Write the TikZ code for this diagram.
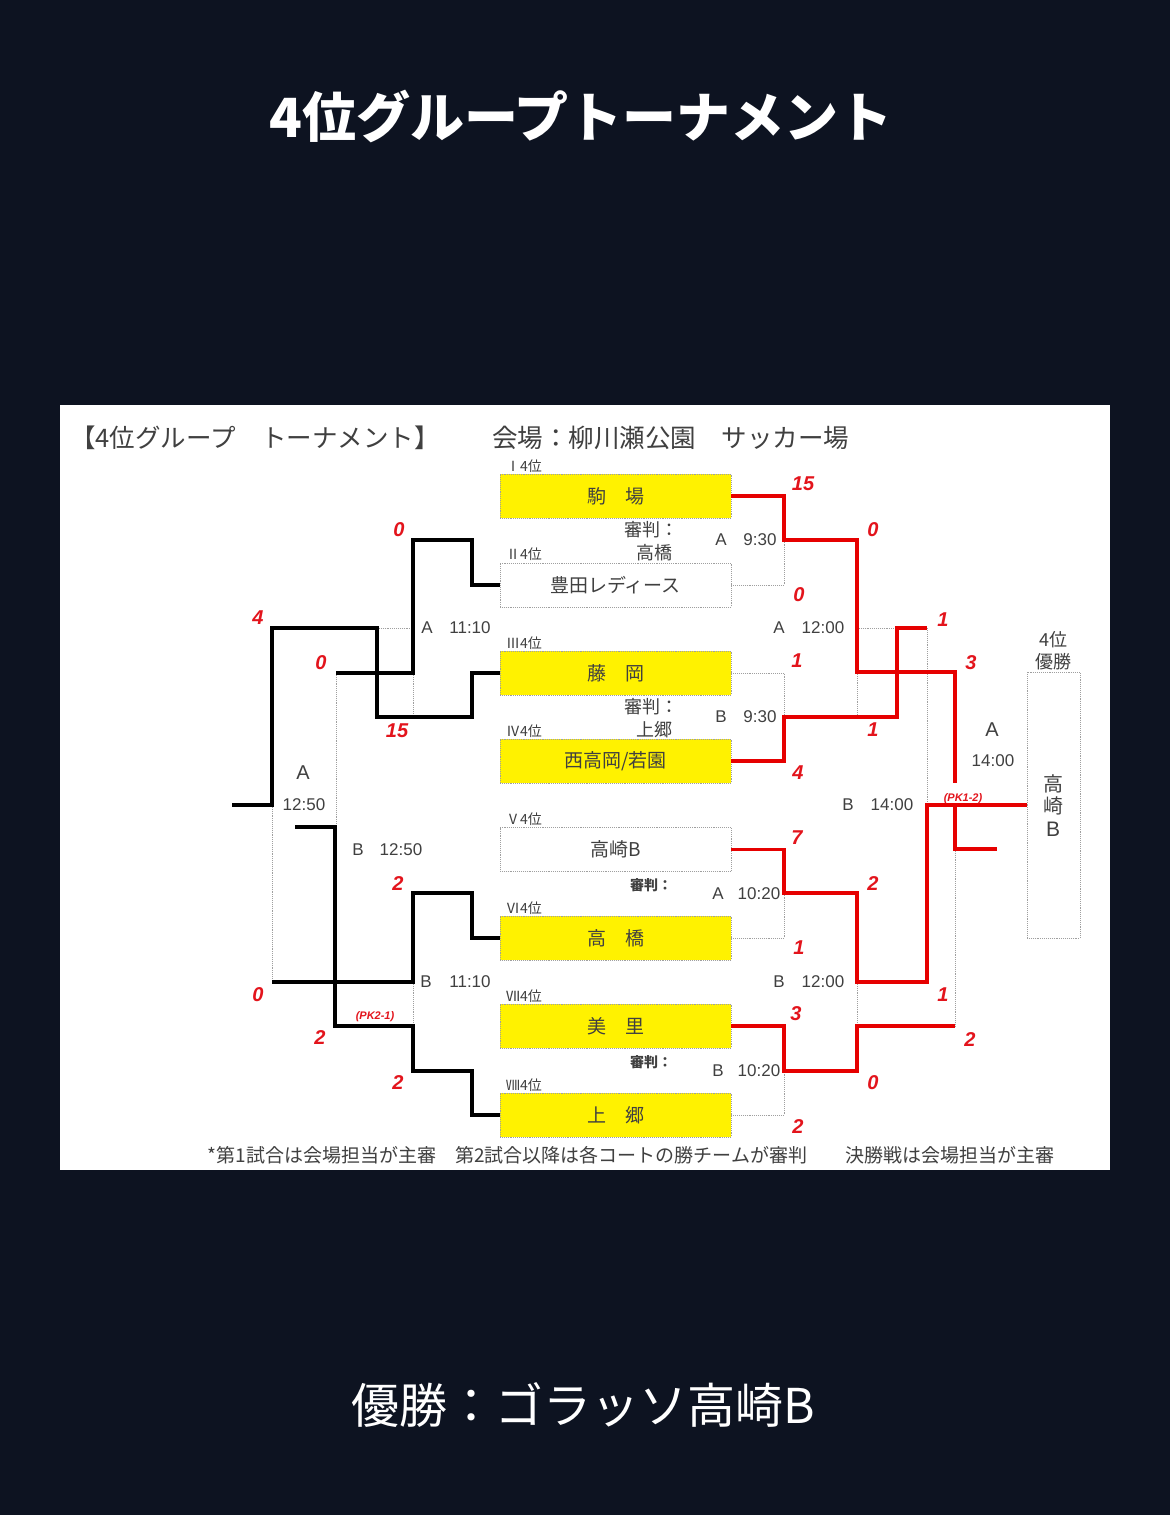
\documentclass[tikz,border=0pt]{standalone}
\usepackage{fontspec}
\setmainfont{Liberation Sans}
\newfontfamily\jp{Noto Sans CJK JP}
\definecolor{bg}{HTML}{0D1321}
\definecolor{txt}{HTML}{404040}
\definecolor{scr}{HTML}{E3141C}
\definecolor{redl}{HTML}{E60000}
\tikzset{
  team/.style={draw=gray!75, densely dotted, line width=0.9pt, minimum width=231pt, minimum height=44pt, inner sep=0pt, font=\jp\fontsize{19}{19}\selectfont, text=txt},
  yel/.style={team, fill=yellow},
  blk/.style={line width=3.2pt, black},
  rd/.style={line width=3.2pt, redl},
  dot/.style={draw=gray!75, densely dotted, line width=0.9pt},
  score/.style={font=\fontsize{20}{20}\selectfont\bfseries\itshape, text=scr, inner sep=0pt},
  pk/.style={font=\fontsize{11}{11}\selectfont\bfseries\itshape, text=scr, inner sep=0pt},
  tm/.style={font=\fontsize{17}{17}\selectfont, text=txt, inner sep=0pt},
  jtx/.style={font=\jp\fontsize{18}{18}\selectfont, text=txt, inner sep=0pt},
  jsm/.style={font=\jp\bfseries\fontsize{14}{14}\selectfont, text=txt, inner sep=0pt},
  rank/.style={font=\jp\fontsize{14}{14}\selectfont, text=txt, anchor=west, inner sep=0pt}
}
\begin{document}
\begin{tikzpicture}[x=1pt,y=-1pt]
\useasboundingbox (0,0) rectangle (1170,1515);
\fill[bg] (0,0) rectangle (1170,1515);
% title
\node[font=\jp\bfseries\fontsize{54}{54}\selectfont, text=white] (title) at (581,116) {4位グループトーナメント};
\node[font=\jp\fontsize{48}{48}\selectfont, text=white] (winner) at (583,1405) {優勝：ゴラッソ高崎B};
% panel
\fill[white] (60,405) rectangle (1110,1170);
\node[font=\jp\fontsize{25.5}{25.5}\selectfont, text=txt, anchor=west, inner sep=0pt] (hdr1) at (70,438) {【4位グループ　トーナメント】};
\node[font=\jp\fontsize{25.5}{25.5}\selectfont, text=txt, anchor=west, inner sep=0pt] (hdr2) at (492,438) {会場：柳川瀬公園　サッカー場};
\node[font=\jp\fontsize{19}{19}\selectfont, text=txt, inner sep=0pt] (foot) at (631,1155) {*第1試合は会場担当が主審　第2試合以降は各コートの勝チームが審判　　決勝戦は会場担当が主審};
% team boxes
\node[yel]  (b1) at (615.5,496) {駒　場};
\node[team] (b2) at (615.5,585) {豊田レディース};
\node[yel]  (b3) at (615.5,673) {藤　岡};
\node[yel]  (b4) at (615.5,761) {西高岡/若園};
\node[team] (b5) at (615.5,849.5) {高崎B};
\node[yel]  (b6) at (615.5,938) {高　橋};
\node[yel]  (b7) at (615.5,1026) {美　里};
\node[yel]  (b8) at (615.5,1115) {上　郷};
\node[rank] (r1) at (506,466) {Ⅰ4位};
\node[rank] (r2) at (506,554) {Ⅱ4位};
\node[rank] (r3) at (506,643) {Ⅲ4位};
\node[rank] (r4) at (506,731) {Ⅳ4位};
\node[rank] (r5) at (506,819) {Ⅴ4位};
\node[rank] (r6) at (506,908) {Ⅵ4位};
\node[rank] (r7) at (506,996) {Ⅶ4位};
\node[rank] (r8) at (506,1085) {Ⅷ4位};
% winner box
\node[dot, minimum width=53pt, minimum height=266pt, inner sep=0pt] (win) at (1053.5,805) {};
\node[jtx] (w1) at (1053,640) {4位};
\node[jtx] (w2) at (1053,662) {優勝};
\node[font=\jp\fontsize{20}{20}\selectfont, text=txt, inner sep=0pt] (w3) at (1053,784) {高};
\node[font=\jp\fontsize{20}{20}\selectfont, text=txt, inner sep=0pt] (w4) at (1053,806) {崎};
\node[font=\fontsize{21}{21}\selectfont, text=txt, inner sep=0pt] (w5) at (1053,829) {B};
% dotted bracket structure
\draw[dot] (b2.east) -- (784,585) -- (784,540);
\draw[dot] (b3.east) -- (784,673) -- (784,717);
\draw[dot] (b6.east) -- (784,938) -- (784,893);
\draw[dot] (b8.east) -- (784,1115) -- (784,1071);
\draw[dot] (857,628) -- (927,628) -- (927,805);
\draw[dot] (857,672) -- (857,717);
\draw[dot] (857,982) -- (857,1026);
\draw[dot] (955,849) -- (955,1026);
\draw[dot] (377,628) -- (413,628);
\draw[dot] (413,673) -- (413,717);
\draw[dot] (336,673) -- (336,827);
\draw[dot] (272,805) -- (272,982);
\draw[dot] (413,982) -- (413,1026);
% red (right) lines
\draw[rd] (b1.east) -- (784,496) |- (857,540) |- (955,672) -- (955,783);
\draw[rd] (955,805) -- (955,849) -- (997,849);
\draw[rd] (b4.east) -- (784,761) |- (897,717) |- (927,628);
\draw[rd] (b5.east) -- (784,849.5) |- (857,893) |- (927,982) |- (win.west);
\draw[rd] (b7.east) -- (784,1026) |- (857,1071) |- (955,1026);
% black (left) lines
\draw[blk] (b2.west) -- (472,585) |- (413,540) |- (336,673);
\draw[blk] (b3.west) -- (472,673) |- (377,717) |- (272,628) |- (232,805);
\draw[blk] (b6.west) -- (472,938) |- (413,893) |- (272,982);
\draw[blk] (b8.west) -- (472,1115) |- (413,1071) |- (335,1026) |- (295,827);
% scores right
\node[score] (s1) at (803,484) {15};
\node[score] (s2) at (873,530) {0};
\node[score] (s3) at (799,595) {0};
\node[score] (s4) at (943,620) {1};
\node[score] (s5) at (971,663) {3};
\node[score] (s6) at (797,661) {1};
\node[score] (s7) at (873,730) {1};
\node[score] (s8) at (798,773) {4};
\node[pk] (pk1) at (963,799) {(PK1-2)};
\node[score] (s9) at (797,838) {7};
\node[score] (s10) at (873,884) {2};
\node[score] (s11) at (799,948) {1};
\node[score] (s12) at (943,995) {1};
\node[score] (s13) at (796,1014) {3};
\node[score] (s14) at (970,1040) {2};
\node[score] (s15) at (873,1083) {0};
\node[score] (s16) at (798,1127) {2};
% scores left
\node[score] (l1) at (399,530) {0};
\node[score] (l2) at (258,618) {4};
\node[score] (l3) at (321,663) {0};
\node[score] (l4) at (397,731) {15};
\node[score] (l5) at (398,884) {2};
\node[score] (l6) at (258,995) {0};
\node[pk] (pk2) at (375,1017) {(PK2-1)};
\node[score] (l7) at (320,1038) {2};
\node[score] (l8) at (398,1083) {2};
% times and referees
\node[jtx] (j1) at (651,530) {審判：};
\node[jtx] (j2) at (654,553) {高橋};
\node[tm] (t1a) at (721,540) {A}; \node[tm] (t1b) at (760,540) {9:30};
\node[tm] (t2a) at (779,628) {A}; \node[tm] (t2b) at (823,628) {12:00};
\node[jtx] (j3) at (651,707) {審判：};
\node[jtx] (j4) at (654,730) {上郷};
\node[tm] (t3a) at (721,717) {B}; \node[tm] (t3b) at (760,717) {9:30};
\node[jsm] (j5) at (651,885) {審判：};
\node[tm] (t4a) at (718,894) {A}; \node[tm] (t4b) at (759,894) {10:20};
\node[tm] (t5a) at (779,982) {B}; \node[tm] (t5b) at (823,982) {12:00};
\node[jsm] (j6) at (651,1062) {審判：};
\node[tm] (t6a) at (718,1071) {B}; \node[tm] (t6b) at (759,1071) {10:20};
\node[tm] (t7a) at (848,805) {B}; \node[tm] (t7b) at (892,805) {14:00};
\node[font=\fontsize{20}{20}\selectfont, text=txt, inner sep=0pt] (t8a) at (992,730) {A};
\node[tm] (t8b) at (993,761) {14:00};
\node[tm] (t9a) at (427,628) {A}; \node[tm] (t9b) at (470,628) {11:10};
\node[font=\fontsize{20}{20}\selectfont, text=txt, inner sep=0pt] (t10a) at (303,773) {A};
\node[tm] (t10b) at (304,805) {12:50};
\node[tm] (t11a) at (358,850) {B}; \node[tm] (t11b) at (401,850) {12:50};
\node[tm] (t12a) at (426,982) {B}; \node[tm] (t12b) at (470,982) {11:10};
\end{tikzpicture}
\end{document}
